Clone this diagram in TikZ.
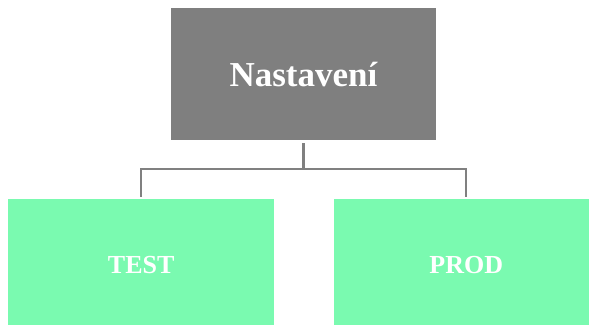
\documentclass[tikz,border=0pt]{standalone}
\usepackage{fontspec}
\setmainfont{Liberation Serif}
\usepackage{tikz}
\usetikzlibrary{positioning}

\definecolor{boxgray}{RGB}{127,127,127}
\definecolor{boxgreen}{RGB}{122,250,176}
\definecolor{linegray}{RGB}{128,128,128}

\begin{document}
\begin{tikzpicture}[x=1pt, y=-1pt,
        box/.style={shape=rectangle, inner sep=0pt, minimum width=265.5pt, minimum height=131.5pt, text=white, font=\bfseries},
        conn/.style={draw=linegray, line width=2.2pt}]
        \clip (0,0) rectangle (589,324);

        \node[box, fill=boxgray, font=\bfseries\fontsize{35}{40}\selectfont] (nast) at (303.4,74.2) {Nastavení};
        \node[box, fill=boxgreen, font=\bfseries\fontsize{26}{30}\selectfont] (test) at (141.2,265.1) {TEST};
        \node[box, fill=boxgreen, font=\bfseries\fontsize{26}{30}\selectfont] (prod) at (466.3,265.1) {PROD};

        \coordinate (split) at (303.4,169);

        \path [conn, shorten <=3pt] (nast.south) -- (split);
        \path [conn, shorten >=2pt] (split) -| (test.north);
        \path [conn, shorten >=2pt] (split) -| (prod.north);
    \end{tikzpicture}
\end{document}
